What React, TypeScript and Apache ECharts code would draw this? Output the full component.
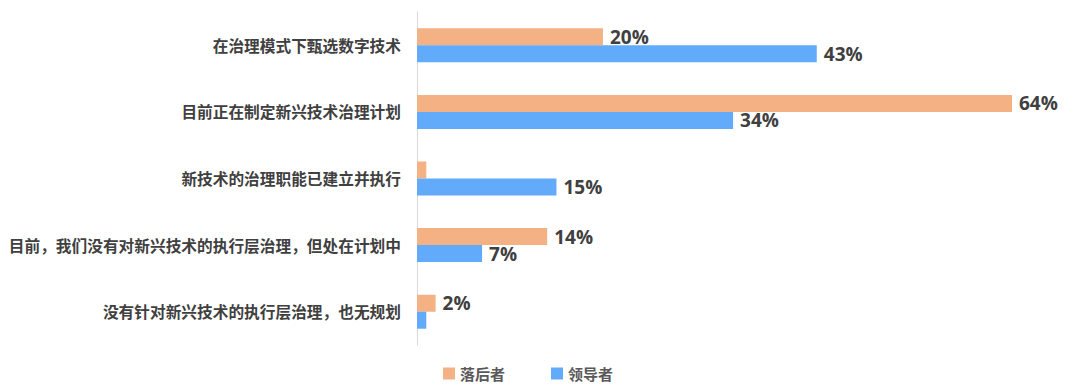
import React, { useEffect, useRef } from "react";
import * as echarts from "echarts";

const categories = [
  "在治理模式下甄选数字技术",
  "目前正在制定新兴技术治理计划",
  "新技术的治理职能已建立并执行",
  "目前，我们没有对新兴技术的执行层治理，但处在计划中",
  "没有针对新兴技术的执行层治理，也无规划",
];
const laggards = [20, 64, 1, 14, 2];
const leaders = [43, 34, 15, 7, 1];
const seriesNames = ["落后者", "领导者"];
const colors = ["#F4B183", "#62AAFA"];

export default function App() {
  const ref = useRef<HTMLDivElement>(null);
  useEffect(() => {
    if (!ref.current) return;
    const chart = echarts.init(ref.current, undefined, { renderer: "svg" });
    const labelCfg = {
      show: true,
      position: "right",
      distance: 7,
      fontFamily: "'Open Sans', 'Noto Sans', sans-serif",
      fontWeight: "bold",
      fontSize: 19,
      color: "#404040",
      formatter: (p: any) => (p.value >= 2 ? p.value + "%" : ""),
    };
    chart.setOption({
      animation: false,
      backgroundColor: "#ffffff",
      color: colors,
      textStyle: { fontFamily: "'Noto Sans CJK SC', sans-serif" },
      legend: {
        data: seriesNames,
        left: 438,
        top: 361,
        itemWidth: 12,
        itemHeight: 12,
        itemGap: 46,
        icon: "rect",
        textStyle: {
          fontSize: 15,
          color: "#595959",
          fontWeight: "bold",
          fontFamily: "'Noto Sans CJK SC', sans-serif",
        },
      },
      grid: { left: 417, right: 68, top: 12, bottom: 46, containLabel: false },
      xAxis: {
        type: "value",
        min: 0,
        max: 64,
        show: false,
        splitLine: { show: false },
      },
      yAxis: {
        type: "category",
        inverse: true,
        data: categories,
        axisLine: { show: true, lineStyle: { color: "#d9d9d9", width: 1 } },
        axisTick: { show: false },
        axisLabel: {
          margin: 16,
          fontSize: 15.7,
          color: "#404040",
          fontWeight: "bold",
          fontFamily: "'Noto Sans CJK SC', sans-serif",
        },
      },
      series: [
        {
          name: seriesNames[0],
          type: "bar",
          data: laggards,
          barWidth: 17,
          barGap: "0%",
          label: labelCfg,
        },
        {
          name: seriesNames[1],
          type: "bar",
          data: leaders,
          barWidth: 17,
          barGap: "0%",
          label: labelCfg,
        },
      ],
    });
    return () => chart.dispose();
  }, []);
  return (
    <div
      ref={ref}
      style={{ position: "fixed", left: 0, top: 0, width: 1080, height: 391 }}
    />
  );
}
